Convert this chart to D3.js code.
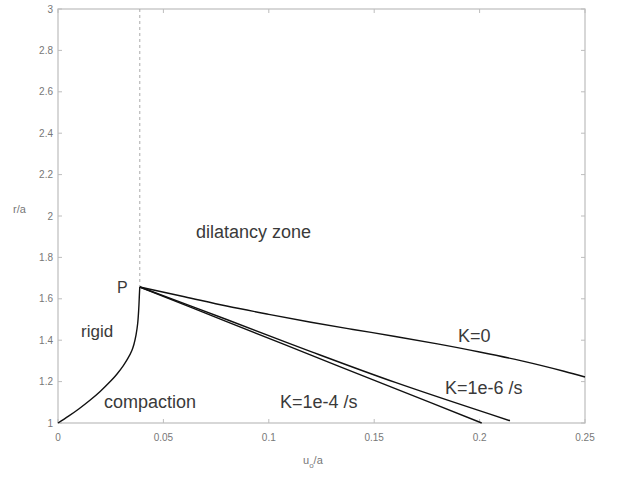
<!DOCTYPE html>
<html><head><meta charset="utf-8">
<script src="https://cdn.jsdelivr.net/npm/d3@7"></script>
<style>body{margin:0;background:#fff}svg{display:block}</style>
</head><body>
<svg id="c" width="617" height="477"></svg>
<script>
const xTicks = [0, 0.05, 0.1, 0.15, 0.2, 0.25];
const xTickLabels = ["0", "0.05", "0.1", "0.15", "0.2", "0.25"];
const yTicks = [1, 1.2, 1.4, 1.6, 1.8, 2, 2.2, 2.4, 2.6, 2.8, 3];
const yTickLabels = ["1", "1.2", "1.4", "1.6", "1.8", "2", "2.2", "2.4", "2.6", "2.8", "3"];

const rigidX = [0, 0.005, 0.01, 0.015, 0.02, 0.025, 0.028, 0.031, 0.033, 0.035, 0.036, 0.037, 0.0378, 0.0383, 0.0386, 0.0388];
const rigidY = [1, 1.033, 1.069, 1.1085, 1.1525, 1.2025, 1.237, 1.2775, 1.3095, 1.3495, 1.3795, 1.4245, 1.4805, 1.5505, 1.6165, 1.657];

const k0X = [0.0388, 0.06, 0.08, 0.1, 0.12, 0.14, 0.16, 0.18, 0.2, 0.22, 0.24, 0.25];
const k0Y = [1.657, 1.61, 1.565, 1.525, 1.487, 1.452, 1.418, 1.382, 1.343, 1.30, 1.25, 1.222];

const k6X = [0.0388, 0.08, 0.12, 0.16, 0.2144];
const k6Y = [1.657, 1.500, 1.345, 1.196, 1.011];

const k4X = [0.0388, 0.08, 0.12, 0.16, 0.201];
const k4Y = [1.657, 1.490, 1.328, 1.166, 1.0];

const peakX = 0.0388;

const svg = d3.select("#c");
const x = d3.scaleLinear().domain([0, 0.25]).range([58, 585]);
const y = d3.scaleLinear().domain([1, 3]).range([423, 9]);
const axisCol = "#bdbdbd", tickTxt = "#777", txt = "#3a3a3a";
const font = "Liberation Sans, Arial, Helvetica, sans-serif";

svg.append("rect").attr("x", x(0)).attr("y", y(3)).attr("width", x(0.25) - x(0)).attr("height", y(1) - y(3))
  .attr("fill", "none").attr("stroke", axisCol).attr("stroke-width", 1.2);

const tl = 4;
xTicks.forEach((t, i) => {
  svg.append("line").attr("x1", x(t)).attr("x2", x(t)).attr("y1", y(1)).attr("y2", y(1) - tl).attr("stroke", axisCol);
  svg.append("line").attr("x1", x(t)).attr("x2", x(t)).attr("y1", y(3)).attr("y2", y(3) + tl).attr("stroke", axisCol);
  svg.append("text").attr("x", x(t)).attr("y", 441).attr("text-anchor", "middle")
    .attr("font-family", font).attr("font-size", 10).attr("fill", tickTxt).text(xTickLabels[i]);
});
yTicks.forEach((t, i) => {
  svg.append("line").attr("x1", x(0)).attr("x2", x(0) + tl).attr("y1", y(t)).attr("y2", y(t)).attr("stroke", axisCol);
  svg.append("line").attr("x1", x(0.25)).attr("x2", x(0.25) - tl).attr("y1", y(t)).attr("y2", y(t)).attr("stroke", axisCol);
  svg.append("text").attr("x", 53).attr("y", y(t) + 3.5).attr("text-anchor", "end")
    .attr("font-family", font).attr("font-size", 10).attr("fill", tickTxt).text(yTickLabels[i]);
});

const xl = svg.append("text").attr("x", 303).attr("y", 464).attr("font-family", font).attr("font-size", 11).attr("fill", tickTxt);
xl.append("tspan").text("u");
xl.append("tspan").attr("dy", 4).attr("font-size", 8).text("o");
xl.append("tspan").attr("dy", -4).text("/a");
svg.append("text").attr("x", 13).attr("y", 213).attr("font-family", font).attr("font-size", 11).attr("fill", tickTxt).text("r/a");

svg.append("line").attr("x1", x(peakX)).attr("x2", x(peakX)).attr("y1", y(3)).attr("y2", y(1.657))
  .attr("stroke", "#aaa").attr("stroke-width", 1).attr("stroke-dasharray", "3,3");

const line = d3.line().x(d => x(d[0])).y(d => y(d[1])).curve(d3.curveCatmullRom.alpha(0.5));
function draw(xs, ys) {
  svg.append("path").datum(xs.map((v, i) => [v, ys[i]])).attr("d", line)
    .attr("fill", "none").attr("stroke", "#111").attr("stroke-width", 1.4);
}
draw(rigidX, rigidY);
draw(k0X, k0Y);
draw(k6X, k6Y);
draw(k4X, k4Y);

function ann(t, px, py, fs) {
  svg.append("text").attr("x", px).attr("y", py).attr("font-family", font).attr("font-size", fs || 18).attr("fill", txt).text(t);
}
ann("dilatancy zone", 196, 238, 18);
ann("P", 117, 293, 16);
ann("rigid", 81, 337, 17);
ann("compaction", 104, 408, 18);
ann("K=1e-4 /s", 280, 408, 18);
ann("K=0", 458, 342, 18);
ann("K=1e-6 /s", 445, 394, 18);
</script>
</body></html>
